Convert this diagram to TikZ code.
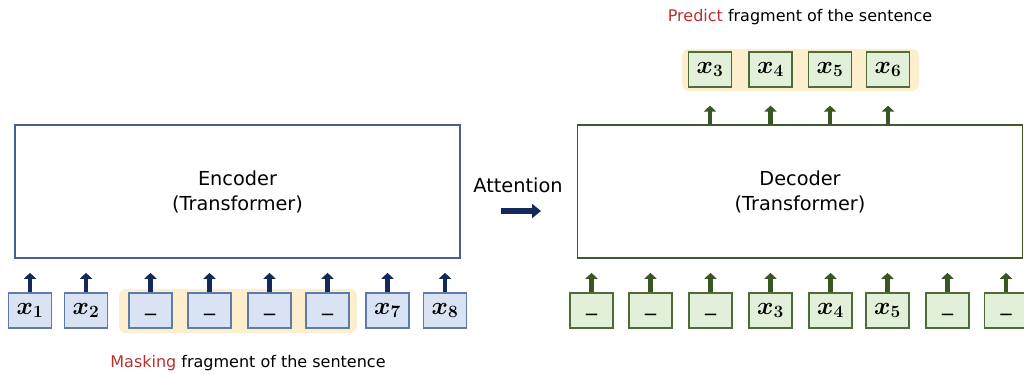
\documentclass[tikz,border=0pt]{standalone}
\usepackage{fontspec}
\setmainfont{DejaVu Sans}
\newfontface\lbl{DejaVu Sans}
\usetikzlibrary{arrows.meta}
\definecolor{encborder}{HTML}{44628F}
\definecolor{encfill}{HTML}{DAE3F3}
\definecolor{enctok}{HTML}{5F7BA6}
\definecolor{encarrow}{HTML}{11295B}
\definecolor{decborder}{HTML}{3D5A2A}
\definecolor{decfill}{HTML}{E2F0D9}
\definecolor{dectok}{HTML}{4E6B3A}
\definecolor{decarrow}{HTML}{385723}
\definecolor{bandcol}{HTML}{FDEFCD}
\definecolor{redtxt}{HTML}{B8312F}
\tikzset{
  tokbase/.style={minimum width=43pt, minimum height=35pt, inner sep=0pt, line width=1.1pt,
    font=\fontsize{24}{24}\selectfont\boldmath},
  tokE/.style={tokbase, draw=enctok, fill=encfill},
  tokD/.style={tokbase, draw=dectok, fill=decfill},
  bigbox/.style={minimum width=445pt, minimum height=133pt, inner sep=0pt, line width=1.6pt,
    align=center, font=\lbl\fontsize{19.3}{25}\selectfont},
  arrE/.style={draw=encarrow, line width=4.5pt, -{Triangle[width=12pt,length=6pt]}},
  arrD/.style={draw=decarrow, line width=4.5pt, -{Triangle[width=12pt,length=6pt]}},
  caption/.style={font=\lbl\fontsize{16}{20}\selectfont},
}
\newcommand{\blank}{\raisebox{-6pt}{\lbl\fontsize{22}{22}\selectfont\_}}
\begin{document}
\begin{tikzpicture}[x=1pt,y=-1pt]
\useasboundingbox (0,0) rectangle (1024,374);
% bands
\fill[bandcol, rounded corners=7pt] (119,289) rectangle (357,333);
\fill[bandcol, rounded corners=7pt] (682,49) rectangle (919,91);
% encoder
\node[bigbox, draw=encborder] (enc) at (237.5,191.5) {Encoder\\(Transformer)};
\node[tokE] (e1) at (30,310.5) {$x_1$};
\node[tokE] (e2) at (86,310.5) {$x_2$};
\node[tokE] (e3) at (150.5,310.5) {\blank};
\node[tokE] (e4) at (209.5,310.5) {\blank};
\node[tokE] (e5) at (269.5,310.5) {\blank};
\node[tokE] (e6) at (327.5,310.5) {\blank};
\node[tokE] (e7) at (387.5,310.5) {$x_7$};
\node[tokE] (e8) at (445,310.5) {$x_8$};
\foreach \i in {1,...,8}{
  \draw[arrE, shorten >=14pt] (e\i.north) -- (e\i.north |- enc.south);
}
\node[caption] (mask) at (248,363) {\textcolor{redtxt}{Masking} fragment of the sentence};
% attention
\node[font=\lbl\fontsize{19.3}{22}\selectfont] (att) at (518,185) {Attention};
\coordinate (a1) at (501,211);
\coordinate (a2) at (541,211);
\draw[draw=encarrow, line width=6pt, -{Triangle[width=14pt,length=9pt]}] (a1) -- (a2);
% decoder
\node[bigbox, draw=decborder] (dec) at (800,191.5) {Decoder\\(Transformer)};
\node[tokD] (d1) at (591.5,310.5) {\blank};
\node[tokD] (d2) at (650.5,310.5) {\blank};
\node[tokD] (d3) at (710.5,310.5) {\blank};
\node[tokD] (d4) at (770.5,310.5) {$x_3$};
\node[tokD] (d5) at (830.5,310.5) {$x_4$};
\node[tokD] (d6) at (887.5,310.5) {$x_5$};
\node[tokD] (d7) at (947.5,310.5) {\blank};
\node[tokD] (d8) at (1006,310.5) {\blank};
\foreach \i in {1,...,8}{
  \draw[arrD, shorten >=14pt] (d\i.north) -- (d\i.north |- dec.south);
}
\node[tokD] (o1) at (710,69.5) {$x_3$};
\node[tokD] (o2) at (770.5,69.5) {$x_4$};
\node[tokD] (o3) at (830,69.5) {$x_5$};
\node[tokD] (o4) at (888,69.5) {$x_6$};
\foreach \i in {1,...,4}{
  \draw[arrD, shorten >=18pt] (o\i.south |- dec.north) -- (o\i.south);
}
\node[caption] (pred) at (800,17) {\textcolor{redtxt}{Predict} fragment of the sentence};
\end{tikzpicture}
\end{document}
